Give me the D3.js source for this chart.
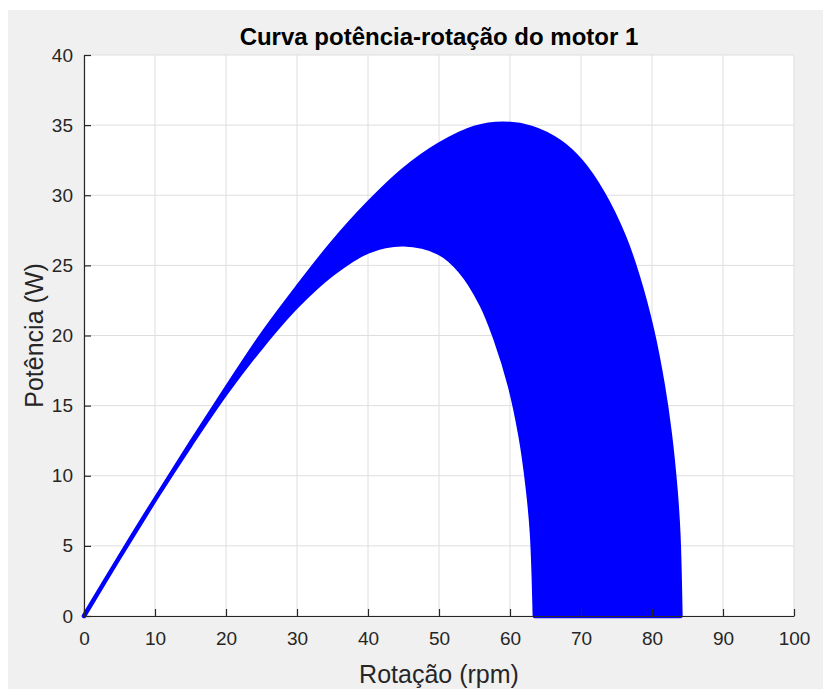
<!DOCTYPE html>
<html>
<head>
<meta charset="utf-8">
<script src="https://cdn.jsdelivr.net/npm/d3@7"></script>
<style>
  body { margin: 0; background: #ffffff; }
  .canvas { width: 823px; height: 689px; }
  text { font-family: "Liberation Sans", Arial, Helvetica, sans-serif; }
</style>
</head>
<body>
<div class="canvas"></div>
<script>
const title = "Curva potência-rotação do motor 1";
const xLabel = "Rotação (rpm)";
const yLabel = "Potência (W)";

const xTicks = [0, 10, 20, 30, 40, 50, 60, 70, 80, 90, 100];
const yTicks = [0, 5, 10, 15, 20, 25, 30, 35, 40];

// outer edge of the filled band
const upperRpm = [0, 5, 10, 15, 20, 25, 30, 35, 40, 45, 50, 55, 59, 63, 67, 70, 73, 76, 78, 80, 81.5, 82.5, 83.3, 83.7, 84];
const upperPower = [0, 4.2, 8.3, 12.3, 16.2, 20, 23.4, 26.6, 29.4, 31.8, 33.6, 34.8, 35.1, 34.8, 33.8, 32.4, 30.2, 27.1, 24.2, 20.4, 16.5, 13, 9, 5.9, 0];

// inner edge of the filled band
const lowerRpm = [0, 5, 10, 15, 20, 25, 30, 35, 40, 45, 50, 53, 56, 58, 60, 61.5, 62.5, 63.1, 63.5];
const lowerPower = [0, 4.2, 8.3, 12.2, 15.9, 19.2, 22.1, 24.4, 26, 26.5, 25.9, 24.6, 22.2, 19.7, 16.4, 12.8, 9.2, 5.9, 0];

const width = 823;
const height = 689;
const plot = { left: 84, right: 794, top: 55, bottom: 616 };

const svg = d3
  .select(".canvas")
  .append("svg")
  .attr("width", width)
  .attr("height", height);

svg
  .append("rect")
  .attr("x", 8)
  .attr("y", 10)
  .attr("width", width - 8)
  .attr("height", height - 10)
  .attr("fill", "#f0f0f0");

svg
  .append("rect")
  .attr("x", plot.left)
  .attr("y", plot.top)
  .attr("width", plot.right - plot.left)
  .attr("height", plot.bottom - plot.top)
  .attr("fill", "#ffffff");

const x = d3.scaleLinear().domain([0, 100]).range([plot.left, plot.right]);
const y = d3.scaleLinear().domain([0, 40]).range([plot.bottom, plot.top]);

// grid
svg
  .append("g")
  .selectAll("line")
  .data(xTicks)
  .enter()
  .append("line")
  .attr("x1", (d) => x(d))
  .attr("x2", (d) => x(d))
  .attr("y1", plot.top)
  .attr("y2", plot.bottom)
  .attr("stroke", "#dedede")
  .attr("stroke-width", 1);

svg
  .append("g")
  .selectAll("line")
  .data(yTicks)
  .enter()
  .append("line")
  .attr("x1", plot.left)
  .attr("x2", plot.right)
  .attr("y1", (d) => y(d))
  .attr("y2", (d) => y(d))
  .attr("stroke", "#dedede")
  .attr("stroke-width", 1);

// band between the two edges
const upper = upperRpm.map((d, i) => [d, upperPower[i]]);
const lower = lowerRpm.map((d, i) => [d, lowerPower[i]]).reverse();

const edge = d3
  .line()
  .x((d) => x(d[0]))
  .y((d) => y(d[1]))
  .curve(d3.curveCatmullRom.alpha(0.5));

const bandPath = edge(upper) + "L" + edge(lower).slice(1) + "Z";

svg
  .append("path")
  .attr("d", bandPath)
  .attr("fill", "#0000ff")
  .attr("stroke", "#0000ff")
  .attr("stroke-width", 4.5)
  .attr("stroke-linejoin", "round")
  .attr("stroke-linecap", "round");

// axes
const xAxis = d3
  .axisBottom(x)
  .tickValues(xTicks)
  .tickSizeInner(-7)
  .tickSizeOuter(0)
  .tickPadding(16);

const yAxis = d3
  .axisLeft(y)
  .tickValues(yTicks)
  .tickSizeInner(-7)
  .tickSizeOuter(0)
  .tickPadding(11);

const gx = svg
  .append("g")
  .attr("transform", `translate(0, ${plot.bottom})`)
  .call(xAxis);

const gy = svg
  .append("g")
  .attr("transform", `translate(${plot.left}, 0)`)
  .call(yAxis);

[gx, gy].forEach((g) => {
  g.select(".domain").attr("stroke", "#262626").attr("stroke-width", 1.2);
  g.selectAll(".tick line").attr("stroke", "#262626").attr("stroke-width", 1.2);
  g.selectAll(".tick text")
    .attr("fill", "#262626")
    .style("font-family", '"Liberation Sans", Arial, sans-serif')
    .style("font-size", "19px");
});

svg
  .append("text")
  .text(title)
  .attr("x", (plot.left + plot.right) / 2)
  .attr("y", 45)
  .attr("text-anchor", "middle")
  .attr("font-weight", "bold")
  .attr("font-size", "24px")
  .attr("fill", "#000000");

svg
  .append("text")
  .text(xLabel)
  .attr("x", (plot.left + plot.right) / 2)
  .attr("y", 683)
  .attr("text-anchor", "middle")
  .attr("font-size", "25px")
  .attr("fill", "#262626");

svg
  .append("text")
  .text(yLabel)
  .attr("transform", `translate(43, ${(plot.top + plot.bottom) / 2}) rotate(-90)`)
  .attr("text-anchor", "middle")
  .attr("font-size", "25px")
  .attr("fill", "#262626");
</script>
</body>
</html>
